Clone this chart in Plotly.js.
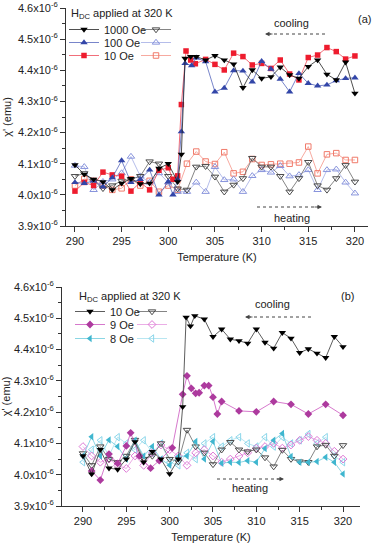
<!DOCTYPE html>
<html><head><meta charset="utf-8">
<script src="https://cdn.plot.ly/plotly-3.0.1.min.js"></script>
<style>html,body{margin:0;padding:0;background:#fff}#chart{width:373px;height:544px}</style>
</head><body><div id="chart"></div>
<script>
// values in units of 1e-6 emu
// ---------- panel (a) ----------
const a_1000c_T = [290,291,292,293,294,295,296,297,298,299,300,301,301.4,301.8,302.4,303,304,305,306,307,308,309,310,311,312,313,314,315,316,317,318,319,320];
const a_1000c_X = [4.096,4.066,4.050,4.042,4.016,4.037,4.052,4.035,4.037,4.085,4.100,4.042,4.130,4.438,4.444,4.444,4.433,4.447,4.433,4.420,4.344,4.401,4.374,4.379,4.410,4.385,4.374,4.412,4.433,4.387,4.369,4.426,4.326];
const a_100c_T = [290,291,292,293,294,295,296,297,298,299,300,300.5,301,301.4,301.8,302.5,303,304,305,306,307,308,309,310,311,312,313,314,315,316,317,318,319,320];
const a_100c_X = [4.040,4.037,4.045,4.026,4.055,4.110,4.040,4.050,4.080,4.000,4.042,4.000,4.050,4.203,4.422,4.415,4.440,4.428,4.331,4.343,4.399,4.398,4.363,4.429,4.404,4.372,4.331,4.390,4.358,4.350,4.353,4.367,4.374,4.376];
const a_10c_T = [290,291,292,293,294,295,296,297,298,299,300,300.5,301,301.4,301.9,302.4,302.9,304,305,306,307,308,309,310,311,312,313,314,315,316,317,318,319,320];
const a_10c_X = [4.012,4.040,4.030,4.073,4.064,4.060,4.012,4.040,4.016,4.079,4.087,4.050,4.061,4.290,4.462,4.433,4.421,4.435,4.419,4.401,4.455,4.444,4.417,4.422,4.406,4.433,4.388,4.369,4.441,4.449,4.473,4.460,4.436,4.446];
const heat_T = [290,291,292,293,294,295,296,297,298,299,300,301,302,303,304,305,306,307,308,309,310,311,312,313,314,315,316,317,318,319,320];
const a_1000h_X = [4.060,4.069,4.045,4.021,4.030,4.045,4.050,4.060,4.107,4.100,4.060,4.020,4.016,4.090,4.092,4.058,4.010,4.032,4.053,4.118,4.090,4.090,4.060,4.010,4.053,4.105,4.030,4.016,4.053,4.095,4.042];
const a_100h_X = [4.094,4.090,4.016,4.042,4.050,4.070,4.123,4.060,4.040,4.070,4.040,4.010,4.010,4.040,4.010,4.090,4.048,4.050,4.010,4.061,4.080,4.072,4.093,4.060,4.064,4.080,4.016,4.080,4.082,4.040,4.005];
const a_10h_X = [4.030,4.051,4.045,4.030,4.016,4.021,4.050,4.030,4.045,4.010,4.030,4.016,4.100,4.139,4.107,4.099,4.137,4.069,4.074,4.115,4.096,4.098,4.100,4.100,4.104,4.155,4.069,4.130,4.134,4.112,4.112];
// ---------- panel (b) ----------
const b_10c_T = [290,291,292,293,294,295,296,297,298,299,300,301,301.5,301.9,302.4,302.9,304,305,306,307,308,309,310,311,312,313,314,315,316,317,318,319,320];
const b_10c_X = [4.060,4.002,4.080,4.021,4.017,4.050,4.105,4.040,4.074,4.050,4.003,4.050,4.217,4.503,4.475,4.508,4.497,4.441,4.465,4.433,4.428,4.420,4.465,4.423,4.404,4.454,4.436,4.390,4.402,4.388,4.374,4.441,4.409];
const b_9c_T = [291,292,293,294,295,295.5,296.5,297.8,298.8,300.3,301.5,302,302.5,303,303.4,304,304.5,305,305.5,306,308,310,312,314,316,318,320];
const b_9c_X = [4.012,3.983,4.066,4.036,4.092,4.134,4.060,4.021,4.045,4.086,4.257,4.316,4.276,4.260,4.262,4.285,4.285,4.248,4.194,4.234,4.204,4.201,4.234,4.225,4.194,4.225,4.190];
const b_8c_X = [4.060,4.121,4.060,4.111,4.090,4.050,4.110,4.060,4.090,4.050,4.030,4.058,4.060,4.106,4.050,4.106,4.037,4.040,4.039,4.045,4.040,4.084,4.110,4.132,4.058,4.040,4.040,4.042,4.056,4.040,4.002];
const b_10h_X = [4.068,4.030,4.090,4.050,4.040,4.060,4.111,4.050,4.060,4.100,4.050,4.042,4.143,4.090,4.070,4.033,4.080,4.104,4.080,4.074,4.080,4.055,4.026,4.079,4.050,4.042,4.040,4.090,4.095,4.060,4.094];
const b_9h_X = [4.090,4.060,4.040,4.050,4.030,4.020,4.060,4.030,4.070,4.095,4.080,4.060,4.030,4.070,4.080,4.060,4.040,4.050,4.060,4.070,4.085,4.090,4.100,4.085,4.095,4.110,4.122,4.110,4.100,4.075,4.050];
const b_8h_X = [4.040,4.080,4.110,4.060,4.120,4.100,4.080,4.110,4.070,4.100,4.040,4.030,4.070,4.050,4.100,4.120,4.090,4.110,4.120,4.100,4.090,4.120,4.090,4.120,4.100,4.110,4.130,4.100,4.120,4.060,4.040];

const legendNamesA = ['1000 Oe','100 Oe','10 Oe'];
const legendNamesB = ['10 Oe','9 Oe','8 Oe'];
const xTickVals = [290,295,300,305,310,315,320];
const yTickVals = [3.9,4.0,4.1,4.2,4.3,4.4,4.5,4.6];
const yTickText = ['3.9x10<sup>-6</sup>','4.0x10<sup>-6</sup>','4.1x10<sup>-6</sup>','4.2x10<sup>-6</sup>','4.3x10<sup>-6</sup>','4.4x10<sup>-6</sup>','4.5x10<sup>-6</sup>','4.6x10<sup>-6</sup>'];

const FONT = 'Liberation Sans, Arial, sans-serif';

function tr(x, y, name, panel, leg, sym, mcol, lcol, fill, size) {
  return {
    x: x, y: y, name: name, type: 'scatter', mode: 'lines+markers',
    xaxis: panel === 'a' ? 'x' : 'x2', yaxis: panel === 'a' ? 'y' : 'y2',
    legend: leg,
    line: {color: lcol, width: 0.8},
    marker: {symbol: sym, size: size, color: mcol,
             line: {color: mcol, width: fill ? 0 : 1}},
    showlegend: true
  };
}

const traces = [
  tr(heat_T, a_10h_X, ' ', 'a', 'legend6', 'square-open', '#f07a6a', '#f59488', false, 5.5),
  tr(heat_T, a_100h_X, ' ', 'a', 'legend5', 'triangle-up-open', '#8894dc', '#a2acE4', false, 6.5),
  tr(heat_T, a_1000h_X, ' ', 'a', 'legend4', 'triangle-down-open', '#4a4a4a', '#666666', false, 6.5),
  tr(a_10c_T, a_10c_X, legendNamesA[2], 'a', 'legend3', 'square', '#ee1c2e', '#ee4a58', true, 5.5),
  tr(a_100c_T, a_100c_X, legendNamesA[1], 'a', 'legend2', 'triangle-up', '#3346a8', '#5666bc', true, 6.5),
  tr(a_1000c_T, a_1000c_X, legendNamesA[0], 'a', 'legend', 'triangle-down', '#000000', '#222222', true, 6.5),

  tr(heat_T, b_8h_X, ' ', 'b', 'legend12', 'triangle-left-open', '#8ad6ea', '#a6e0ee', false, 6.5),
  tr(heat_T, b_9h_X, ' ', 'b', 'legend11', 'diamond-open', '#de7ad6', '#e699e0', false, 6),
  tr(heat_T, b_10h_X, ' ', 'b', 'legend10', 'triangle-down-open', '#4a4a4a', '#666666', false, 6.5),
  tr(heat_T, b_8c_X, legendNamesB[2], 'b', 'legend9', 'triangle-left', '#3fb6cf', '#6ccbdd', true, 6.5),
  tr(b_9c_T, b_9c_X, legendNamesB[1], 'b', 'legend8', 'diamond', '#ad3a9e', '#cc55bf', true, 6),
  tr(b_10c_T, b_10c_X, legendNamesB[0], 'b', 'legend7', 'triangle-down', '#000000', '#333333', true, 6.5)
];

const W = 373, H = 544;
const px = v => v / W, py = v => 1 - v / H;

function xax(domain, range) {
  return {
    domain: domain, range: range,
    showline: true, linecolor: '#333', linewidth: 1, mirror: false,
    ticks: 'outside', ticklen: 5, tickcolor: '#333', tickwidth: 1,
    tickmode: 'array', tickvals: xTickVals,
    minor: {ticks: 'outside', ticklen: 3, tickcolor: '#333', dtick: 2.5, tick0: 290},
    showgrid: false, zeroline: false,
    tickfont: {family: FONT, size: 11, color: '#222'},
    title: {text: 'Temperature (K)', font: {family: FONT, size: 11, color: '#222'}, standoff: 7}
  };
}
function yax(domain) {
  return {
    domain: domain, range: [3.9, 4.6],
    showline: true, linecolor: '#333', linewidth: 1,
    ticks: 'outside', ticklen: 5, tickcolor: '#333', tickwidth: 1,
    tickmode: 'array', tickvals: yTickVals, ticktext: yTickText,
    minor: {ticks: 'outside', ticklen: 3, tickcolor: '#333', dtick: 0.05, tick0: 3.9},
    showgrid: false, zeroline: false,
    tickfont: {family: FONT, size: 11, color: '#222'},
    title: {text: "χ' (emu)", font: {family: FONT, size: 11, color: '#222'}, standoff: 4}
  };
}
const LOFF = 16; // legend top to row centre
function leg(x, yc) {
  return {x: px(x), y: py(yc - LOFF), xanchor: 'left', yanchor: 'top', bgcolor: 'rgba(0,0,0,0)',
          borderwidth: 0, font: {family: FONT, size: 11, color: '#222'}, itemclick: false};
}
function ann(x, y, text, xa) {
  return {xref: 'paper', yref: 'paper', x: px(x), y: py(y), xanchor: xa || 'center', yanchor: 'middle',
          showarrow: false, text: text, font: {family: FONT, size: 11, color: '#222'}};
}
// arrow: dotted shaft as a shape, head as a short annotation arrow
function head(x, y, dir) {
  return {xref: 'paper', yref: 'paper', x: px(x), y: py(y), ax: 9 * dir, ay: 0, axref: 'pixel', ayref: 'pixel',
          text: '', showarrow: true, arrowhead: 2, arrowsize: 1, arrowwidth: 0.9, arrowcolor: '#444'};
}
function shaft(x0, x1, y) {
  return {type: 'line', xref: 'paper', yref: 'paper', x0: px(x0), x1: px(x1), y0: py(y), y1: py(y),
          line: {color: '#444', width: 1, dash: 'dot'}};
}

const rowsA = [31, 44, 57];
const rowsB = [313, 326, 340];

const layout = {
  width: W, height: H, margin: {l: 0, r: 0, t: 0, b: 0},
  paper_bgcolor: '#fff', plot_bgcolor: '#fff', showlegend: true,
  font: {family: FONT, size: 11, color: '#222'},
  xaxis: Object.assign(xax([px(66), px(368)], [289.04, 321.4]), {anchor: 'y'}),
  yaxis: Object.assign(yax([py(226), py(8)]), {anchor: 'x'}),
  xaxis2: Object.assign(xax([px(62), px(360)], [287.58, 321.96]), {anchor: 'y2'}),
  yaxis2: Object.assign(yax([py(506), py(287)]), {anchor: 'x2'}),
  legend: leg(64, rowsA[0]), legend2: leg(64, rowsA[1]), legend3: leg(64, rowsA[2]),
  legend4: leg(136, rowsA[0]), legend5: leg(136, rowsA[1]), legend6: leg(136, rowsA[2]),
  legend7: leg(70, rowsB[0]), legend8: leg(70, rowsB[1]), legend9: leg(70, rowsB[2]),
  legend10: leg(132, rowsB[0]), legend11: leg(132, rowsB[1]), legend12: leg(132, rowsB[2]),
  shapes: [
    shaft(268, 328, 34),
    shaft(257, 319, 207),
    shaft(248, 312, 317),
    shaft(217, 281, 479)
  ],
  annotations: [
    ann(69, 14, 'H<sub>DC</sub> applied at 320 K', 'left'),
    ann(77, 297, 'H<sub>DC</sub> applied at 320 K', 'left'),
    ann(364, 19, '(a)'),
    ann(347, 296, '(b)'),
    ann(291, 23, 'cooling'),
    ann(292, 218, 'heating'),
    ann(272, 304, 'cooling'),
    ann(250, 488, 'heating'),
    head(265, 34, 1),
    head(322, 207, -1),
    head(245, 317, 1),
    head(284, 479, -1)
  ]
};

Plotly.newPlot('chart', traces, layout, {staticPlot: true, displayModeBar: false});
</script></body></html>
